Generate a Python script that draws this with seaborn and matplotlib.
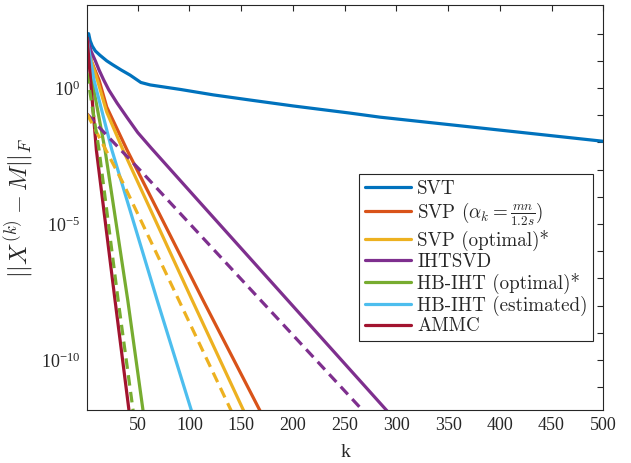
import numpy as np
import pandas as pd
import matplotlib
matplotlib.use("Agg")
import matplotlib.pyplot as plt
import matplotlib.ticker as mticker
import seaborn as sns

# values (error vs iteration k)
k_svt = [1, 2.5, 4, 6, 9, 13.5, 20, 26, 34, 42.5, 53, 62, 91, 123, 159, 200, 255, 284, 381, 500]
e_svt = [71, 100, 55, 35, 23, 16, 10, 7.1, 4.6, 3.0, 1.6, 1.3, 0.89, 0.56, 0.36, 0.22, 0.12, 0.085, 0.034, 0.011]

k_svp = [1, 5, 12.6, 20, 39.7, 113, 170]
e_svp = [63, 10, 1.95, 0.2, 5.2e-3, 1.6e-8, 1e-12]

k_svp_opt = [1, 5, 11, 20, 35.8, 102.5, 154]
e_svp_opt = [63, 10, 1.95, 0.13, 5.2e-3, 1.6e-8, 1e-12]

k_iht = [1, 5, 9, 12.6, 17, 22, 30, 40, 50, 63, 108, 294]
e_iht = [71, 22, 10, 4.6, 2.0, 0.85, 0.28, 0.079, 0.023, 6.2e-3, 7.6e-5, 1e-12]

k_hb_opt = [1, 5.8, 18.4, 40.3, 55.6]
e_hb_opt = [56, 1.95, 5.2e-3, 1.6e-8, 1e-12]

k_hb_est = [1, 7.7, 25, 68.7, 103]
e_hb_est = [63, 1.95, 5.2e-3, 1.6e-8, 1e-12]

k_ammc = [1, 10, 28, 42]
e_ammc = [69, 5.2e-3, 1.6e-8, 1e-12]

# dashed curves (no legend entry)
k_iht_d = [1, 14, 54, 271]
e_iht_d = [0.112, 0.032, 8.1e-4, 1e-12]

k_svp_d = [1, 35.8, 84, 142]
e_svp_d = [0.112, 3.2e-4, 4.5e-8, 1e-12]

k_hb_d = [1, 5, 12.6, 31, 46]
e_hb_d = [3.5, 0.36, 5.2e-3, 1.6e-8, 1e-12]

labels = ["SVT", r"SVP ($\alpha_k = \frac{mn}{1.2s}$)", "SVP (optimal)*", "IHTSVD",
          "HB-IHT (optimal)*", "HB-IHT (estimated)", "AMMC"]
colors = ["#0072BD", "#D95319", "#EDB120", "#7E2F8E", "#77AC30", "#4DBEEE", "#A2142F"]

sns.set_theme(style="white")
plt.rcParams["mathtext.fontset"] = "cm"
plt.rcParams["font.family"] = ["Liberation Serif", "DejaVu Serif"]

fig = plt.figure(figsize=(6.31, 4.63), dpi=100)
ax = fig.add_axes([0.138, 0.1145, 0.818, 0.8745])

lw = 2.3
solid = [(k_svt, e_svt), (k_svp, e_svp), (k_svp_opt, e_svp_opt), (k_iht, e_iht),
         (k_hb_opt, e_hb_opt), (k_hb_est, e_hb_est), (k_ammc, e_ammc)]
for (kk, ee), lab, c in zip(solid, labels, colors):
    df = pd.DataFrame({"k": kk, "err": ee})
    sns.lineplot(data=df, x="k", y="err", ax=ax, color=c, lw=lw, label=lab,
                 sort=False, estimator=None)

dashed = [(k_iht_d, e_iht_d, colors[3]), (k_svp_d, e_svp_d, colors[2]), (k_hb_d, e_hb_d, colors[4])]
for kk, ee, c in dashed:
    df = pd.DataFrame({"k": kk, "err": ee})
    sns.lineplot(data=df, x="k", y="err", ax=ax, color=c, lw=lw, legend=False,
                 sort=False, estimator=None)
    ax.lines[-1].set_dashes((3.3, 2.0))

ax.set_yscale("log")
ax.set_xlim(1, 500)
ax.set_ylim(10 ** -11.84, 10 ** 3.05)

ax.set_xticks(np.arange(50, 501, 50))
ax.yaxis.set_major_locator(mticker.FixedLocator([10.0 ** p for p in range(-11, 3)]))
ax.yaxis.set_minor_locator(mticker.NullLocator())
ax.yaxis.set_major_formatter(mticker.FuncFormatter(
    lambda v, pos: r"$\mathregular{10^{%d}}$" % round(np.log10(v)) if round(np.log10(v)) in (0, -5, -10) else ""))

dark = "#262626"
ax.tick_params(direction="in", length=4, width=0.8, top=True, right=True,
               colors=dark, labelsize=13, pad=5)
for s in ax.spines.values():
    s.set_color(dark)
    s.set_linewidth(0.8)

ax.set_xlabel("k", fontsize=14, color=dark, labelpad=7)
ax.set_ylabel(r"$||X^{(k)} - M||_F$", fontsize=17.5, color=dark, labelpad=4)

leg = ax.legend(loc="lower left", bbox_to_anchor=(0.527, 0.17), frameon=True, fancybox=False,
                framealpha=1, edgecolor=dark, prop={"family": ["cmr10", "DejaVu Serif"], "size": 13.7},
                handlelength=2.45, labelspacing=0.1, borderpad=0.3, handletextpad=0.3,
                borderaxespad=0)
leg.get_frame().set_linewidth(0.8)

fig.savefig("out.png", dpi=100)
